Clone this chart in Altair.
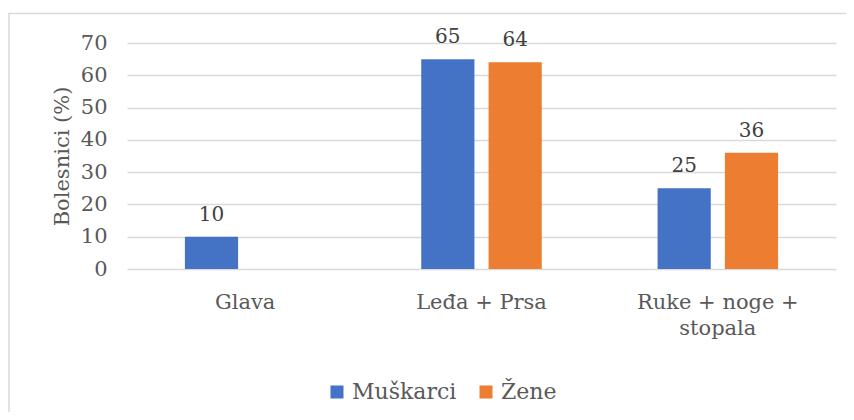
import altair as alt
import pandas as pd

categories = ["Glava", "Leđa + Prsa", "Ruke + noge + stopala"]
series = ["Muškarci", "Žene"]
muskarci = [10, 65, 25]
zene = [0, 64, 36]
colors = ["#4472C4", "#ED7D31"]
y_ticks = [0, 10, 20, 30, 40, 50, 60, 70]

rows = []
for i, c in enumerate(categories):
    rows.append({"kat": c, "spol": series[0], "val": muskarci[i], "lbl": str(muskarci[i]) if muskarci[i] else ""})
    rows.append({"kat": c, "spol": series[1], "val": zene[i], "lbl": str(zene[i]) if zene[i] else ""})
df = pd.DataFrame(rows)

FONT = "DejaVu Serif"
GRAY = "#595959"

label_expr = ("datum.value == 'Ruke + noge + stopala' ? ['Ruke + noge +', 'stopala'] : datum.value")

x = alt.X("kat:N", sort=categories, title=None,
          scale=alt.Scale(paddingInner=0.49, paddingOuter=0.245),
          axis=alt.Axis(labelAngle=0, labelPadding=22, ticks=False, domain=False, grid=False,
                        labelExpr=label_expr, labelLineHeight=26, labelFontSize=21,
                        labelLimit=0))
xo = alt.XOffset("spol:N", sort=series, scale=alt.Scale(paddingInner=0.21, paddingOuter=0))
y = alt.Y("val:Q", title="Bolesnici (%)",
          scale=alt.Scale(domain=[0, 70], nice=False),
          axis=alt.Axis(values=y_ticks, labelFontSize=21,
                        labelPadding=20, ticks=False, domain=False,
                        labelOverlap=False, titleFontSize=21, titlePadding=8))

bars = alt.Chart(df).mark_bar().encode(
    x=x, xOffset=xo, y=y,
    color=alt.Color("spol:N", sort=series, scale=alt.Scale(domain=series, range=colors),
                    legend=alt.Legend(title=None, orient="none", direction="horizontal",
                                      legendX=199, legendY=338, symbolType="square",
                                      symbolSize=169, symbolStrokeWidth=0,
                                      labelFontSize=22, labelColor=GRAY,
                                      columnPadding=18, labelOffset=4)),
)

text = alt.Chart(df).mark_text(baseline="alphabetic", dy=-16, fontSize=20, color="#404040").encode(
    x=x, xOffset=xo, y=y, text="lbl:N")

frame = alt.Chart(pd.DataFrame({"a": [0]})).mark_rect(
    fill=None, stroke="#D9D9D9", strokeWidth=1.5, clip=False).encode(
    x=alt.value(-118), x2=alt.value(760), y=alt.value(-29.5), y2=alt.value(420))

chart = alt.layer(frame, bars, text).properties(
    width=709, height=226,
    padding={"left": 119, "top": 35, "right": 10, "bottom": 143},
    autosize=alt.AutoSizeParams(type="none"),
).configure(font=FONT).configure_axis(
    labelFont=FONT, titleFont=FONT, labelColor=GRAY, titleColor=GRAY,
    titleFontWeight="normal", gridColor="#D9D9D9", gridWidth=1.5
).configure_legend(labelFont=FONT).configure_text(font=FONT).configure_view(stroke=None)

chart.save("out.html", embed_options={"renderer": "svg", "actions": False})
